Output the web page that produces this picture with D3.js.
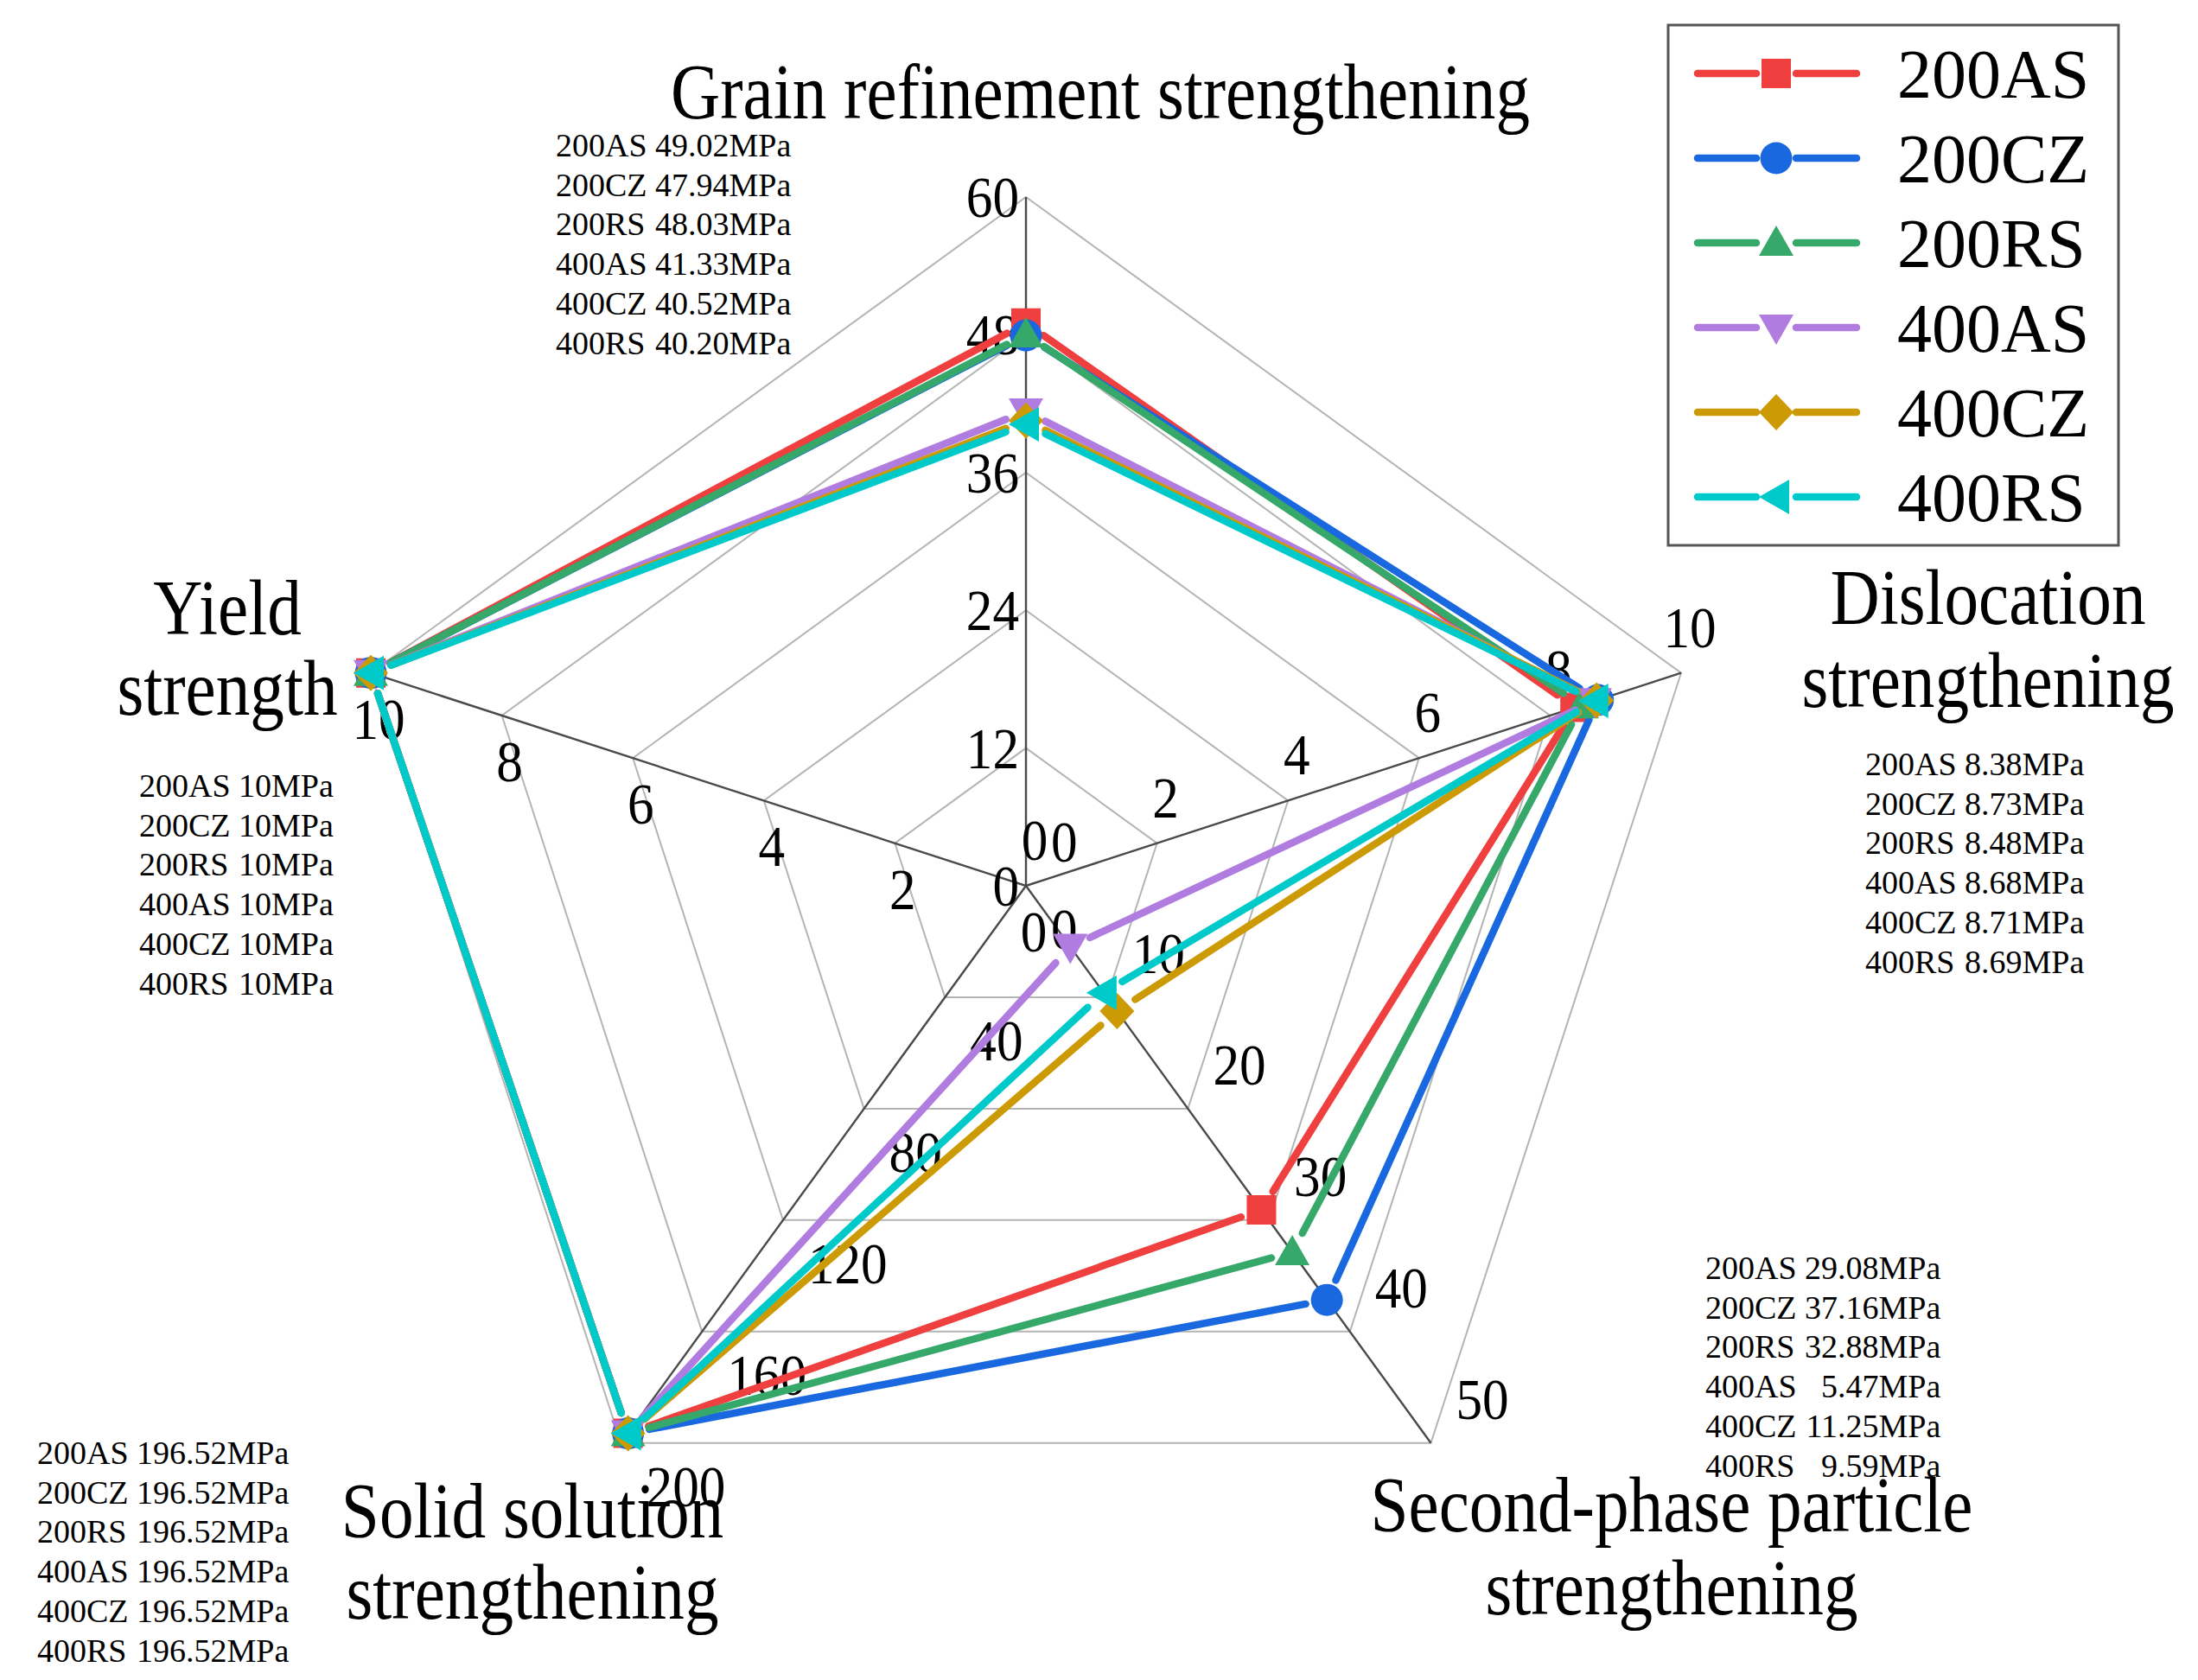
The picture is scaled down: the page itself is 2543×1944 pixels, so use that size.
<!DOCTYPE html>
<html><head><meta charset="utf-8">
<script src="https://cdn.jsdelivr.net/npm/d3@7"></script>
<style>
html,body{margin:0;padding:0;background:#fff;}
svg{display:block;}
text{font-family:"Liberation Serif","Times New Roman",serif;fill:#000;}
</style>
</head><body><div id="chart"></div>
<script>
// ---------- data ----------
const axisTitles = [
  ["Grain refinement strengthening"],
  ["Dislocation", "strengthening"],
  ["Second-phase particle", "strengthening"],
  ["Solid solution", "strengthening"],
  ["Yield", "strength"]
];
const axisMax = [60, 10, 50, 200, 10];
const axisTicks = [
  [0, 12, 24, 36, 48, 60],
  [0, 2, 4, 6, 8, 10],
  [0, 10, 20, 30, 40, 50],
  [0, 40, 80, 120, 160, 200],
  [0, 2, 4, 6, 8, 10]
];
const seriesNames = ["200AS", "200CZ", "200RS", "400AS", "400CZ", "400RS"];
const grainRefinement = [49.02, 47.94, 48.03, 41.33, 40.52, 40.20];
const dislocation = [8.38, 8.73, 8.48, 8.68, 8.71, 8.69];
const secondPhase = [29.08, 37.16, 32.88, 5.47, 11.25, 9.59];
const solidSolution = [196.52, 196.52, 196.52, 196.52, 196.52, 196.52];
const yieldStrength = [10, 10, 10, 10, 10, 10];
const axisValues = [grainRefinement, dislocation, secondPhase, solidSolution, yieldStrength];
const valueFormats = [".2f", ".2f", ".2f", ".2f", "d"];

// ---------- style ----------
const colors = ["#EF3F3F", "#1A68E0", "#36A86A", "#B07CE0", "#CC9A05", "#00C9C9"];
const markerTypes = ["square", "circle", "triUp", "triDown", "diamond", "triLeft"];
const W = 2543, H = 1944;
const cx = 1187, cy = 1025, R = 797;

const svg = d3.select("#chart").append("svg").attr("width", W).attr("height", H);
svg.append("rect").attr("width", W).attr("height", H).attr("fill", "#fff");

const scales = axisMax.map(m => d3.scaleLinear().domain([0, m]).range([0, R]));
const ang = i => i * 2 * Math.PI / 5;
function pt(i, v) {
  const r = scales[i](v), a = ang(i);
  return [cx + r * Math.sin(a), cy - r * Math.cos(a)];
}

// grid pentagons
const closed = d3.line().curve(d3.curveLinearClosed);
const gridG = svg.append("g");
for (let k = 1; k < 6; k++) {
  const ring = axisTicks.map((t, i) => pt(i, t[k]));
  gridG.append("path").attr("d", closed(ring))
    .attr("fill", "none").attr("stroke", "#b4b4b4").attr("stroke-width", 2);
}
// axis lines
axisMax.forEach((m, i) => {
  const p = pt(i, m);
  gridG.append("line").attr("x1", cx).attr("y1", cy).attr("x2", p[0]).attr("y2", p[1])
    .attr("stroke", "#4a4a4a").attr("stroke-width", 2.4);
});

// tick labels
const tickStyle = [
  {anchor: "end", dx: -8, dy: 23},
  {anchor: "middle", dx: 10, dy: -30},
  {anchor: "start", dx: 29, dy: -28},
  {anchor: "start", dx: 29, dy: 73},
  {anchor: "middle", dx: 9, dy: 76}
];
const tickG = svg.append("g");
axisTicks.forEach((ticks, i) => {
  ticks.forEach(t => {
    const p = pt(i, t), s = tickStyle[i];
    tickG.append("text")
      .attr("transform", `translate(${p[0] + s.dx},${p[1] + s.dy}) scale(0.9,1)`)
      .attr("text-anchor", s.anchor).attr("font-size", 68).text(t);
  });
});

// markers
function markerPath(type) {
  switch (type) {
    case "square": return "M-17,-17H17V17H-17Z";
    case "circle": return d3.symbol(d3.symbolCircle, Math.PI * 18.5 * 18.5)();
    case "triUp": return "M0,-20L20,15L-20,15Z";
    case "triDown": return "M0,20L20,-15L-20,-15Z";
    case "diamond": return "M0,-21L20,0L0,21L-20,0Z";
    case "triLeft": return "M-20,0L15,-20L15,20Z";
  }
}

// series
const gap = 25;
const seriesG = svg.append("g");
seriesNames.forEach((name, s) => {
  const pts = axisValues.map((vals, i) => pt(i, vals[s]));
  const g = seriesG.append("g");
  for (let j = 0; j < pts.length; j++) {
    const a = pts[j], b = pts[(j + 1) % pts.length];
    const dx = b[0] - a[0], dy = b[1] - a[1], L = Math.hypot(dx, dy);
    const ux = dx / L, uy = dy / L;
    g.append("line")
      .attr("x1", a[0] + ux * gap).attr("y1", a[1] + uy * gap)
      .attr("x2", b[0] - ux * gap).attr("y2", b[1] - uy * gap)
      .attr("stroke", colors[s]).attr("stroke-width", 8.5).attr("stroke-linecap", "round");
  }
  pts.forEach(p => {
    g.append("path").attr("d", markerPath(markerTypes[s]))
      .attr("transform", `translate(${p[0]},${p[1]})`).attr("fill", colors[s]);
  });
});

// axis titles
const titlePos = [
  {x: 1273, y: [137]},
  {x: 2300, y: [722, 818]},
  {x: 1934, y: [1772, 1868]},
  {x: 616, y: [1779, 1873]},
  {x: 263, y: [734, 827]}
];
const titleG = svg.append("g");
axisTitles.forEach((lines, i) => {
  lines.forEach((ln, k) => {
    titleG.append("text")
      .attr("transform", `translate(${titlePos[i].x},${titlePos[i].y[k]}) scale(0.88,1)`)
      .attr("text-anchor", "middle").attr("font-size", 90).text(ln);
  });
});

// value annotation blocks
const annoPos = [
  {x: 643, y: 181},
  {x: 2158, y: 897},
  {x: 1973, y: 1480},
  {x: 43, y: 1694},
  {x: 161, y: 922}
];
const annoStep = 45.7, annoFont = 38;
const annoG = svg.append("g");
axisValues.forEach((vals, i) => {
  const g = annoG.append("g");
  const f = d3.format(valueFormats[i]);
  const names = seriesNames.map((n, s) => g.append("text")
    .attr("x", annoPos[i].x).attr("y", annoPos[i].y + s * annoStep)
    .attr("font-size", annoFont).text(n));
  const values = vals.map((v, s) => g.append("text")
    .attr("y", annoPos[i].y + s * annoStep).attr("text-anchor", "end")
    .attr("font-size", annoFont).text(f(v) + "MPa"));
  const nameW = d3.max(names, t => t.node().getComputedTextLength());
  const valW = d3.max(values, t => t.node().getComputedTextLength());
  const right = annoPos[i].x + nameW + annoFont * 0.25 + valW;
  values.forEach(t => t.attr("x", right));
});

// legend
const leg = svg.append("g");
leg.append("rect").attr("x", 1930).attr("y", 29).attr("width", 521).attr("height", 602)
  .attr("fill", "#fff").attr("stroke", "#555").attr("stroke-width", 3);
const legY = d3.scalePoint().domain(seriesNames).range([85, 575]);
seriesNames.forEach((name, s) => {
  const y = legY(name);
  leg.append("line").attr("x1", 1964).attr("x2", 2032).attr("y1", y).attr("y2", y)
    .attr("stroke", colors[s]).attr("stroke-width", 8.5).attr("stroke-linecap", "round");
  leg.append("line").attr("x1", 2078).attr("x2", 2148).attr("y1", y).attr("y2", y)
    .attr("stroke", colors[s]).attr("stroke-width", 8.5).attr("stroke-linecap", "round");
  leg.append("path").attr("d", markerPath(markerTypes[s]))
    .attr("transform", `translate(2055,${y})`).attr("fill", colors[s]);
  leg.append("text").attr("x", 2195).attr("y", y + 28).attr("font-size", 80).text(name);
});
</script>
</body></html>
